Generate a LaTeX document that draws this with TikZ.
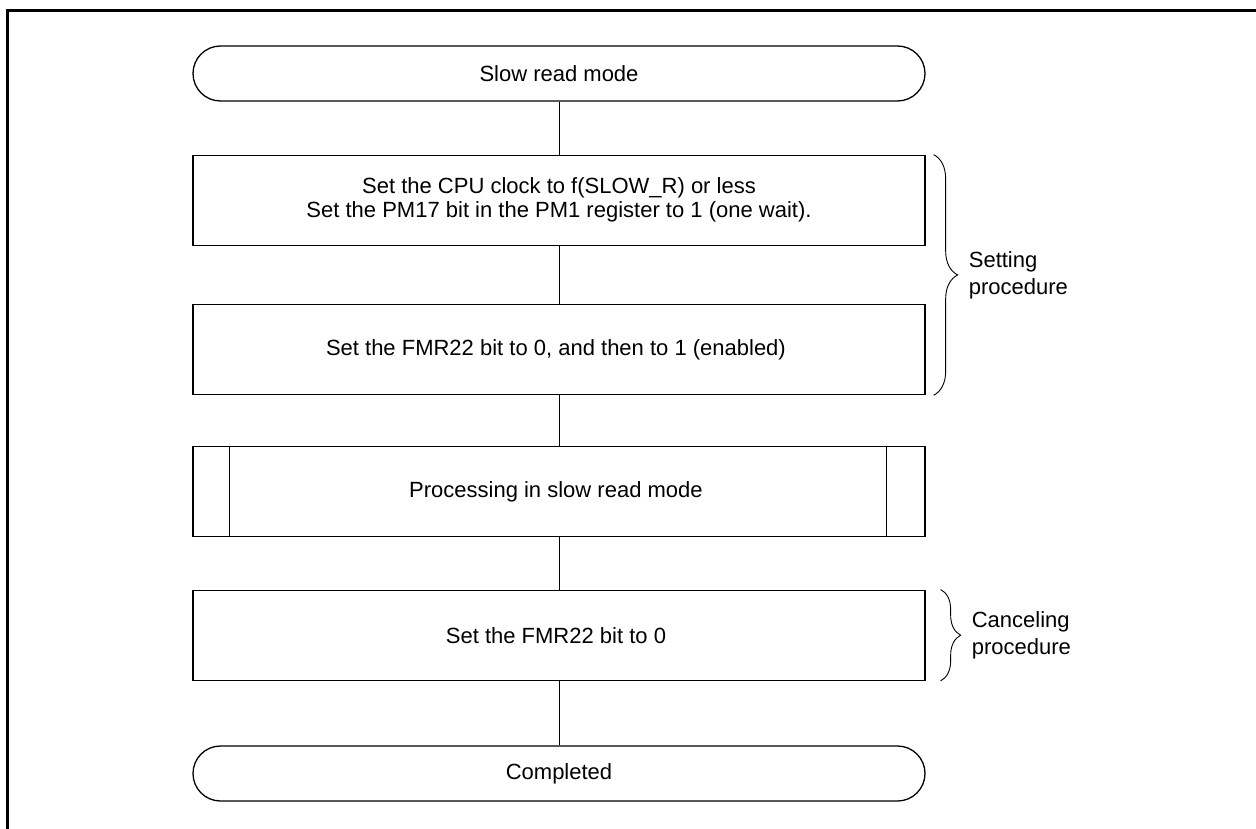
\documentclass[tikz,border=0pt]{standalone}
\usepackage{fontspec}
\setmainfont{Liberation Sans}
\usepackage{tikz}
\usetikzlibrary{
  positioning, decorations.pathreplacing, calc
}
\tikzset{
  termbox/.style={
    rectangle, rounded corners=27.5pt,
    draw=black, line width=1.3pt,
    minimum width=732pt, minimum height=55pt,
    font=\fontsize{22}{24}\selectfont, inner sep=0pt
  },
  stepbox/.style={
    rectangle, draw=black, line width=1.3pt,
    minimum width=732pt, minimum height=90pt, align=center,
    font=\fontsize{22}{24}\selectfont, inner sep=0pt
  },
  link/.style={draw=black, line width=0.8pt},
  brc/.style={decorate, decoration={brace, amplitude=#1}, line width=0.9pt},
  bracelabel/.style={
    anchor=west, align=left,
    font=\fontsize{22}{27}\selectfont, inner sep=0pt
  }
}

\begin{document}
\begin{tikzpicture}[x=1pt, y=-1pt]
\useasboundingbox (0,0) rectangle (1256,829);

% ── Frame ───────────────────────────────────────────────────
\draw[line width=3pt] (7.5,829) -- (7.5,10.5) -- (1256,10.5);

% ── Flow nodes ──────────────────────────────────────────────
\node[termbox] (start) at (559,73.5) {Slow read mode};

\node[stepbox, below=53pt of start] (clock) {%
  Set the CPU clock to f(SLOW\_R) or less\\
  Set the PM17 bit in the PM1 register to 1 (one wait).
};

\node[stepbox, below=58pt of clock] (enable) {%
  Set the FMR22 bit to 0, and then to 1 (enabled)
};

\node[stepbox, below=50.5pt of enable] (proc) {%
  Processing in slow read mode
};
\draw[line width=1.3pt] ([xshift=37pt]proc.north west)
  -- ([xshift=37pt]proc.south west);
\draw[line width=1.3pt] ([xshift=-39pt]proc.north east)
  -- ([xshift=-39pt]proc.south east);

\node[stepbox, below=52.5pt of proc] (cancel) {%
  Set the FMR22 bit to 0
};

\node[termbox, below=64.5pt of cancel] (done) {Completed};

% ── Connectors ──────────────────────────────────────────────
\draw[link] (start)  -- (clock);
\draw[link] (clock)  -- (enable);
\draw[link] (enable) -- (proc);
\draw[link] (proc)   -- (cancel);
\draw[link] (cancel) -- (done);

% ── Braces ──────────────────────────────────────────────────
\draw[brc=24pt] ([xshift=8pt]clock.north east)
  -- ([xshift=8pt]enable.south east)
  coordinate[pos=0.5, xshift=25pt] (settip);
\node[bracelabel] (setlbl) at ([xshift=10pt]settip) {Setting\\procedure};

\draw[brc=20pt] ([xshift=15pt]cancel.north east)
  -- ([xshift=15pt]cancel.south east)
  coordinate[pos=0.5, xshift=21pt] (canceltip);
\node[bracelabel] (cancellbl) at ([xshift=10pt]canceltip) {Canceling\\procedure};

\end{tikzpicture}
\end{document}
